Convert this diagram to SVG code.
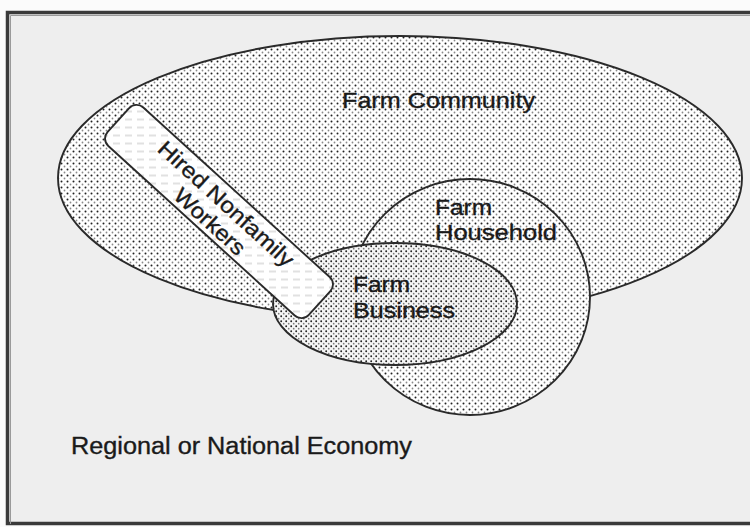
<svg xmlns="http://www.w3.org/2000/svg" width="750" height="527" viewBox="0 0 750 527">
  <defs>
    <pattern id="dots" width="6" height="6" patternUnits="userSpaceOnUse">
      <rect width="6" height="6" fill="#ffffff"/>
      <circle cx="1.5" cy="1.5" r="1" fill="#222222"/>
      <circle cx="4.5" cy="4.5" r="0.9" fill="#8a8a8a"/>
    </pattern>
    <pattern id="dotsDense" width="5" height="5" patternUnits="userSpaceOnUse">
      <rect width="5" height="5" fill="#f6f6f6"/>
      <circle cx="1.2" cy="1.2" r="0.95" fill="#222222"/>
      <circle cx="3.7" cy="3.7" r="0.85" fill="#7a7a7a"/>
    </pattern>
    <pattern id="dashes" width="12" height="8" patternUnits="userSpaceOnUse" patternTransform="rotate(-42.3)">
      <rect width="12" height="8" fill="#ffffff"/>
      <line x1="2" y1="4" x2="9" y2="4" stroke="#c4c4c4" stroke-width="1"/>
    </pattern>
  </defs>
  <style>
    .shape { stroke: #2a2a2a; stroke-width: 1.9; }
    .lbl { font-family: "Liberation Sans", Arial, sans-serif; font-size: 22px; fill: #1a1a1a; stroke: #1a1a1a; stroke-width: 0.35px; }
  </style>

  <rect x="0" y="0" width="750" height="527" fill="#fbfbfb"/>
  <g id="frame">
    <rect x="7.5" y="12.5" width="800" height="511" fill="#eeeeee" stroke="#3a3a3a" stroke-width="3.5"/>
    <path d="M10.5 524 V15.5 H760" fill="none" stroke="#9a9a9a" stroke-width="1"/>
  </g>

  <g id="farm-community">
    <ellipse class="shape" cx="400" cy="178" rx="342" ry="142" fill="url(#dots)"/>
    <text class="lbl" x="342" y="107.5" textLength="193" lengthAdjust="spacingAndGlyphs">Farm Community</text>
  </g>

  <g id="farm-household">
    <ellipse class="shape" cx="470" cy="297" rx="120" ry="118" fill="url(#dots)"/>
    <text class="lbl" x="435" y="215" textLength="57" lengthAdjust="spacingAndGlyphs">Farm</text>
    <text class="lbl" x="435" y="239.5" textLength="122" lengthAdjust="spacingAndGlyphs">Household</text>
  </g>

  <g id="farm-business">
    <ellipse class="shape" cx="395" cy="304" rx="122" ry="61" fill="url(#dotsDense)"/>
    <text class="lbl" x="353" y="291.5" textLength="57" lengthAdjust="spacingAndGlyphs">Farm</text>
    <text class="lbl" x="353" y="318" textLength="102" lengthAdjust="spacingAndGlyphs">Business</text>
  </g>

  <g id="hired-nonfamily-workers" transform="translate(219,211.5) rotate(42.3)">
    <rect class="shape" x="-136" y="-26" width="272" height="52" rx="10" fill="url(#dashes)"/>
    <text class="lbl" x="0" y="-3" text-anchor="middle" textLength="175" lengthAdjust="spacingAndGlyphs">Hired Nonfamily</text>
    <text class="lbl" x="0" y="21" text-anchor="middle" textLength="88" lengthAdjust="spacingAndGlyphs">Workers</text>
  </g>

  <g id="regional-economy">
    <text class="lbl" x="71" y="454" style="font-size:23px" textLength="341" lengthAdjust="spacingAndGlyphs">Regional or National Economy</text>
  </g>

  <g id="connectors"></g>
</svg>
